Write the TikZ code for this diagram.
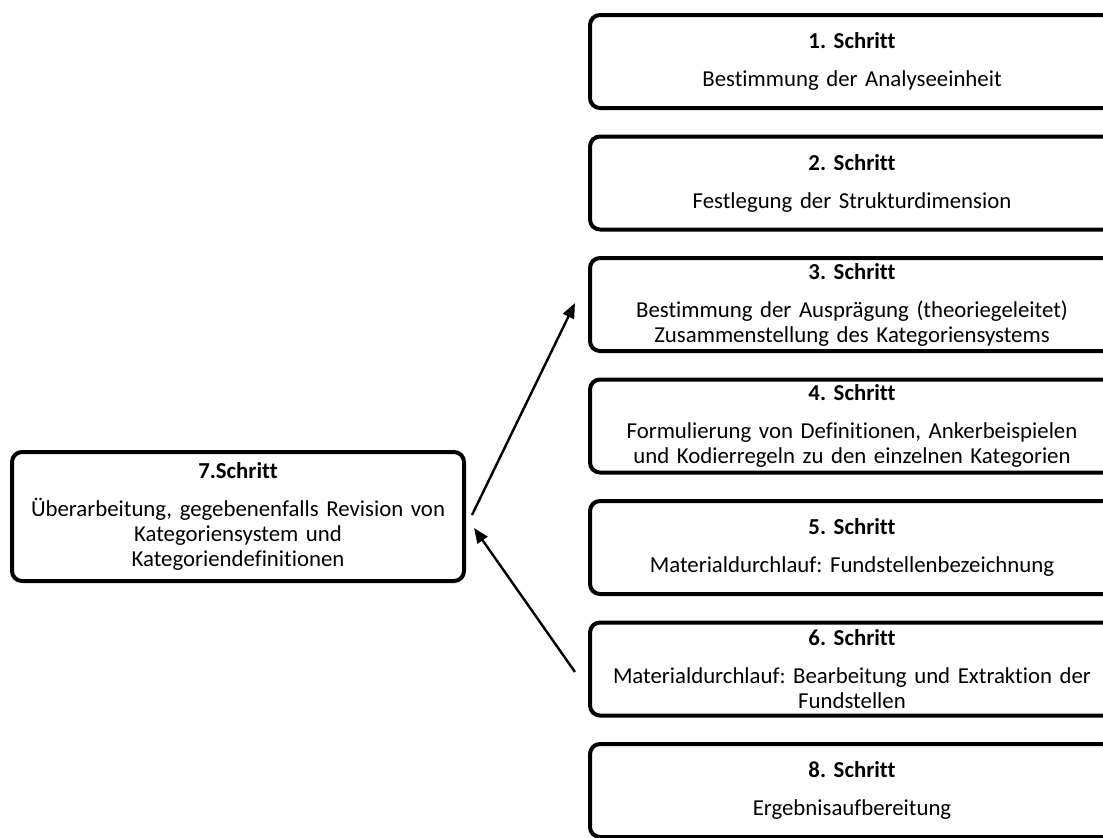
\documentclass[tikz,border=0pt]{standalone}
\usepackage{fontspec}
\setmainfont[Ligatures=NoCommon]{Carlito}
\usetikzlibrary{arrows.meta,positioning}
\tikzstyle{schritt} = [rectangle, draw, line width=2pt, rounded corners=5pt,
    minimum width=262pt, minimum height=46.5pt, text width=254pt, align=center,
    inner sep=0pt, font=\fontsize{11.4}{12.5}\selectfont]
\tikzstyle{pfeil} = [-{Triangle[length=7.5pt,width=6pt]}, line width=1.2pt]
\newcommand{\titel}[1]{\textbf{#1}\\[6.5pt]}

\begin{document}
\frenchspacing
\begin{tikzpicture}[node distance=60.75pt]
  \useasboundingbox (0,0) rectangle (551.5pt,-418.5pt);
  \node[schritt] (s1) at (426pt,-30.75pt) {\titel{1. Schritt} Bestimmung der Analyseeinheit};
  \node[schritt] (s2) [below of=s1] {\titel{2. Schritt} Festlegung der Strukturdimension};
  \node[schritt] (s3) [below of=s2] {\titel{3. Schritt} Bestimmung der Ausprägung (theoriegeleitet)\\ Zusammenstellung des Kategoriensystems};
  \node[schritt] (s4) [below of=s3] {\titel{4. Schritt} Formulierung von Definitionen, Ankerbeispielen\\ und Kodierregeln zu den einzelnen Kategorien};
  \node[schritt] (s5) [below of=s4] {\titel{5. Schritt} Materialdurchlauf: Fundstellenbezeichnung};
  \node[schritt] (s6) [below of=s5] {\titel{6. Schritt} Materialdurchlauf: Bearbeitung und Extraktion der\\ Fundstellen};
  \node[schritt] (s8) [below of=s6] {\titel{8. Schritt} Ergebnisaufbereitung};
  \node[schritt, minimum width=226pt, minimum height=64.5pt, text width=224pt] (s7) at (119pt,-258.25pt)
    {\titel{7.Schritt} Überarbeitung, gegebenenfalls Revision von\\ Kategoriensystem und\\ Kategoriendefinitionen};

  \draw[pfeil] ([xshift=3pt,yshift=0.75pt]s7.east) -- ([xshift=-6.5pt,yshift=0.75pt]s3.west);
  \draw[pfeil] ([xshift=-6.5pt,yshift=-1.5pt]s6.west) -- ([xshift=4pt,yshift=-5.75pt]s7.east);
\end{tikzpicture}
\end{document}
